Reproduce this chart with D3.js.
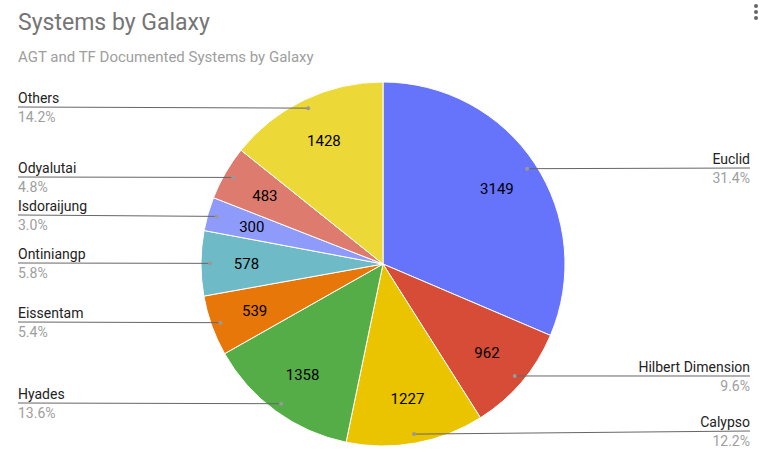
<!DOCTYPE html>
<html><head><meta charset="utf-8">
<script src="https://cdn.jsdelivr.net/npm/d3@7"></script>
<style>body{margin:0;background:#fff}svg{font-family:Roboto,Arial,sans-serif}</style>
</head><body><svg id="c" width="766" height="457"></svg>
<script>
const categories = ["Euclid","Hilbert Dimension","Calypso","Hyades","Eissentam","Ontiniangp","Isdoraijung","Odyalutai","Others"];
const values = [3149,962,1227,1358,539,578,300,483,1428];
const percentLabels = ["31.4%","9.6%","12.2%","13.6%","5.4%","5.8%","3.0%","4.8%","14.2%"];
const colors = ["#6673fb","#d64c37","#ebc400","#55ad47","#e8770a","#6fbac7","#8f9bfa","#dd7c6e","#ecd836"];
const labelLineY = [168,376,431,403,322,263,215,177,107];

const svg = d3.select("#c");
svg.append("text").attr("x",18).attr("y",30).attr("font-size",23).attr("fill","#757575").text("Systems by Galaxy");
svg.append("text").attr("x",18).attr("y",62).attr("font-size",15).attr("fill","#9e9e9e").text("AGT and TF Documented Systems by Galaxy");
[6,12,18].forEach(y=>svg.append("circle").attr("cx",756).attr("cy",y).attr("r",2).attr("fill","#666"));

const cx=383, cy=264, R=182;
const pie = d3.pie().sort(null).value(d=>d)(values);
const arc = d3.arc().innerRadius(0).outerRadius(R);
const g = svg.append("g").attr("transform",`translate(${cx},${cy})`);
g.selectAll("path").data(pie).join("path").attr("d",arc).attr("fill",(d,i)=>colors[i]).attr("stroke","#fff").attr("stroke-width",1);
const inner = d3.arc().innerRadius(R*0.75).outerRadius(R*0.75);
g.selectAll("text.v").data(pie).join("text").attr("class","v")
  .attr("transform",d=>`translate(${inner.centroid(d)})`).attr("text-anchor","middle").attr("dy","0.35em")
  .attr("font-size",15).attr("fill","#000").text(d=>d.value);

const outer = d3.arc().innerRadius(R*0.95).outerRadius(R*0.95);
pie.forEach((d,i)=>{
  const [px,py] = outer.centroid(d);
  const ax=px+cx, ay=py+cy;
  const right = (d.startAngle+d.endAngle)/2 < Math.PI;
  const ex = right?750:18, ly = labelLineY[i];
  svg.append("line").attr("x1",ax).attr("y1",ay).attr("x2",ex).attr("y2",ly).attr("stroke","#666").attr("stroke-width",1);
  svg.append("circle").attr("cx",ax).attr("cy",ay).attr("r",2).attr("fill","#999");
  const anchor = right?"end":"start";
  svg.append("text").attr("x",ex).attr("y",ly-4).attr("text-anchor",anchor).attr("font-size",14).attr("fill","#222").text(categories[i]);
  svg.append("text").attr("x",ex).attr("y",ly+15).attr("text-anchor",anchor).attr("font-size",14).attr("fill","#9e9e9e").text(percentLabels[i]);
});
</script></body></html>
